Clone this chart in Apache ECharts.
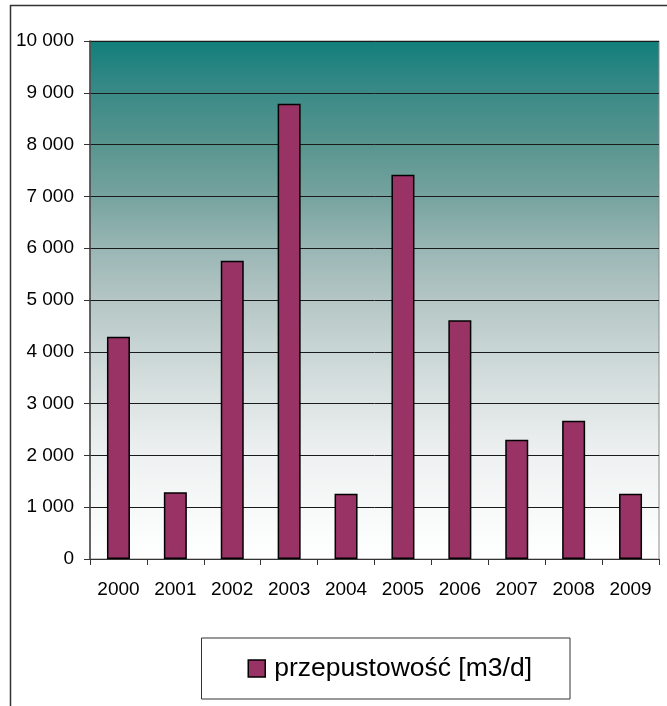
<!DOCTYPE html>
<html>
<head>
<meta charset="utf-8">
<script src="https://cdn.jsdelivr.net/npm/echarts@6/dist/echarts.min.js"></script>
<style>
  html, body { margin: 0; padding: 0; background: #fff; }
  #chart { width: 667px; height: 706px; }
</style>
</head>
<body>
<div id="chart"></div>
<script>
const years = ["2000", "2001", "2002", "2003", "2004", "2005", "2006", "2007", "2008", "2009"];
const throughput = [4290, 1290, 5760, 8790, 1260, 7420, 4610, 2300, 2670, 1260];
const seriesName = "przepustowość [m3/d]";

function spacedThousands(value) {
  return String(value).replace(/\B(?=(\d{3})+(?!\d))/g, " ");
}

const chart = echarts.init(document.getElementById("chart"));

chart.setOption({
  animation: false,
  textStyle: { fontFamily: "Liberation Sans, Arial, sans-serif" },
  graphic: [
    {
      type: "rect",
      silent: true,
      shape: { x: 10.5, y: 5.5, width: 700, height: 720 },
      style: { fill: "none", stroke: "#333", lineWidth: 1.5 },
    },
  ],
  grid: {
    left: 90,
    right: 8,
    top: 41,
    bottom: 147,
    show: true,
    borderColor: "#8a8a8a",
    borderWidth: 1,
    backgroundColor: new echarts.graphic.LinearGradient(0, 0, 0, 1, [
      { offset: 0, color: "#117e7a" },
      { offset: 0.1, color: "#3a8a87" },
      { offset: 0.2, color: "#58958f" },
      { offset: 0.3, color: "#76a39f" },
      { offset: 0.4, color: "#99b6b4" },
      { offset: 0.5, color: "#b4c6c5" },
      { offset: 0.6, color: "#c9d6d5" },
      { offset: 0.7, color: "#dde4e4" },
      { offset: 0.8, color: "#eef1f1" },
      { offset: 0.9, color: "#f7f9f9" },
      { offset: 1, color: "#ffffff" },
    ]),
  },
  legend: {
    data: [{ name: seriesName, icon: "rect" }],
    left: 201.5,
    top: 638,
    padding: [17, 38, 17, 46],
    itemWidth: 17,
    itemHeight: 17,
    borderColor: "#333",
    borderWidth: 1,
    backgroundColor: "#fff",
    itemStyle: { borderColor: "#000", borderWidth: 1.5 },
    textStyle: { fontSize: 26.5, color: "#000", lineHeight: 27, padding: [0, 0, 0, 4] },
  },
  xAxis: {
    type: "category",
    data: years,
    axisLine: { lineStyle: { color: "#333", width: 1 } },
    axisTick: { show: true, length: 6, lineStyle: { color: "#333" } },
    axisLabel: { color: "#000", fontSize: 19, margin: 21 },
  },
  yAxis: {
    type: "value",
    min: 0,
    max: 10000,
    interval: 1000,
    axisLine: { show: true, lineStyle: { color: "#444", width: 1.5 } },
    axisTick: { show: true, length: 6, lineStyle: { color: "#333" } },
    axisLabel: { color: "#000", fontSize: 19, margin: 16, formatter: spacedThousands },
    splitLine: { lineStyle: { color: "#1a1a1a", width: 1 } },
  },
  series: [
    {
      name: seriesName,
      type: "bar",
      data: throughput,
      barWidth: 23,
      itemStyle: { color: "#993366", borderColor: "#000", borderWidth: 1.5 },
    },
  ],
});
</script>
</body>
</html>
